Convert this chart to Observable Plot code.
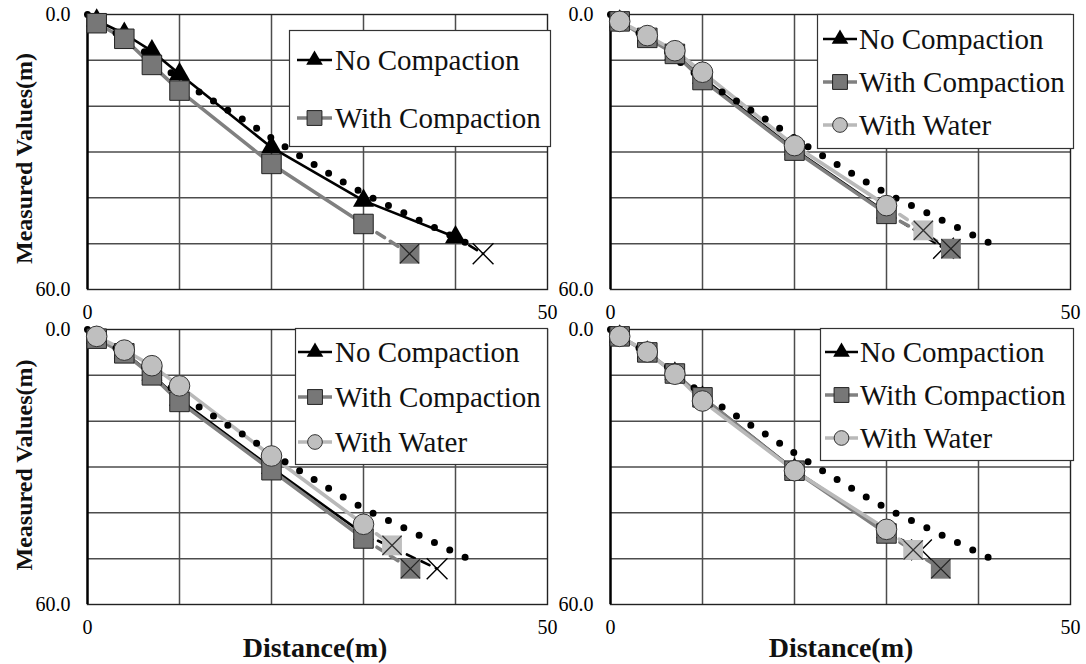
<!DOCTYPE html>
<html><head><meta charset="utf-8">
<script src="https://cdn.jsdelivr.net/npm/d3@7"></script>
<script src="https://cdn.jsdelivr.net/npm/@observablehq/plot@0.6"></script>
<style>
html,body{margin:0;padding:0;background:#fff;}
#chart{position:relative;width:1086px;height:664px;overflow:hidden;background:#fff;}
</style></head><body><div id="chart"></div>
<script>
// ---------- data ----------
const xTicks = [0, 50];
const yTicks = [0, 60];
const gridX = [10, 20, 30, 40];
const gridY = [10, 20, 30, 40, 50];
const seriesNames = ["No Compaction", "With Compaction", "With Water"];
const stations = [1, 4, 7, 10, 20, 30];
const stationsLong = [1, 4, 7, 10, 20, 30, 40];

// dotted reference curve (same in all panels)
const theoryX = [0, 2.5, 5.7, 8.5, 11.6, 14.8, 18.0, 21.0, 24.2, 27.3, 30.5, 33.9, 37.2, 40.5, 42.2];
const theoryY = [0, 3.3, 7.3, 11.9, 16.2, 20.3, 24.3, 28.3, 32.2, 36.0, 39.6, 42.8, 46.0, 49.2, 50.8];

// panel A (top left)
const aNoComp = [1.3, 4.2, 8.0, 13.0, 29.0, 40.6, 48.6];
const aNoCompEnd = [43.0, 52.2];
const aComp = [1.9, 5.3, 11.0, 16.6, 32.6, 45.7];
const aCompEnd = [35.0, 52.2];

// panel B (top right)
const bNoComp = [1.5, 5.0, 8.6, 13.8, 29.4, 43.2];
const bNoCompEnd = [36.2, 51.0];
const bComp = [1.5, 5.1, 8.6, 14.3, 29.7, 43.5];
const bCompEnd = [37.0, 51.1];
const bWater = [1.5, 4.6, 7.9, 12.6, 28.6, 41.7];
const bWaterEnd = [34.0, 47.1];

// panel C (bottom left)
const cNoComp = [1.8, 5.0, 9.8, 15.3, 30.2, 44.6];
const cNoCompEnd = [38.0, 52.2];
const cComp = [2.0, 5.2, 10.0, 15.8, 30.7, 45.6];
const cCompEnd = [35.1, 52.2];
const cWater = [1.5, 4.5, 7.9, 12.3, 27.6, 42.5];
const cWaterEnd = [33.1, 47.1];

// panel D (bottom right)
const dNoComp = [1.5, 5.0, 9.6, 14.8, 30.6, 44.2];
const dNoCompEnd = [33.8, 48.1];
const dComp = [1.5, 5.0, 9.6, 14.8, 30.8, 44.5];
const dCompEnd = [35.9, 52.2];
const dWater = [1.5, 4.9, 9.75, 15.6, 30.8, 43.6];
const dWaterEnd = [32.9, 48.1];

// ---------- styles ----------
const C_NO = "#000000", C_COMP = "#808080", C_WATER = "#b9b9b9";
const FILL_SQ = "#777777", FILL_CIR = "#bfbfbf";
const SERIF = "'Liberation Serif','Times New Roman',serif";

const pts = (xs, ys) => xs.map((x, i) => ({x, y: ys[i]}));
const theory = pts(theoryX, theoryY);

function seriesMarks(xs, ys, end, kind) {
  const data = pts(xs, ys);
  const last = data[data.length - 1];
  const endPt = {x: end[0], y: end[1]};
  const col = kind === "no" ? C_NO : kind === "comp" ? C_COMP : C_WATER;
  const lineW = kind === "no" ? 2.6 : 3.6;
  const line = [
    Plot.line(data, {x: "x", y: "y", stroke: col, strokeWidth: lineW}),
  ];
  const conn = [
    Plot.line([last, endPt], {x: "x", y: "y", stroke: col, strokeWidth: lineW, strokeDasharray: "9,7"})
  ];
  let markers;
  if (kind === "no") {
    markers = [
      Plot.dot(data, {x: "x", y: "y", symbol: "triangle", r: 7.8, fill: "#000", stroke: "none"}),
      Plot.dot([endPt], {x: "x", y: "y", symbol: "times", r: 9.5, stroke: "#000", strokeWidth: 1.4, fill: "none"})
    ];
  } else if (kind === "comp") {
    markers = [
      Plot.dot(data, {x: "x", y: "y", symbol: "square", r: 11, fill: FILL_SQ, stroke: "#222", strokeWidth: 1}),
      Plot.dot([endPt], {x: "x", y: "y", symbol: "square", r: 11.2, fill: FILL_SQ, stroke: "none"}),
      Plot.dot([endPt], {x: "x", y: "y", symbol: "times", r: 8.8, stroke: "#222", strokeWidth: 1.3, fill: "none"})
    ];
  } else {
    markers = [
      Plot.dot(data, {x: "x", y: "y", symbol: "circle", r: 10.3, fill: FILL_CIR, stroke: "#333", strokeWidth: 1}),
      Plot.dot([endPt], {x: "x", y: "y", symbol: "square", r: 11.2, fill: FILL_CIR, stroke: "none"}),
      Plot.dot([endPt], {x: "x", y: "y", symbol: "times", r: 8.8, stroke: "#333", strokeWidth: 1.3, fill: "none"})
    ];
  }
  return {line, conn, markers};
}

function panel(cfg) {
  const ser = cfg.series.map(s => seriesMarks(s.xs, s.ys, s.end, s.kind));
  const el = Plot.plot({
    width: cfg.width, height: cfg.height,
    marginLeft: 87, marginRight: cfg.mr, marginTop: 14, marginBottom: cfg.mb,
    style: {background: "transparent", overflow: "visible", fontFamily: SERIF, fontSize: "20px", color: "#000"},
    x: {domain: [0, 50], ticks: xTicks, tickSize: 0, tickPadding: 15, tickFormat: d => String(d), label: null},
    y: {domain: [0, 60], reverse: true, ticks: yTicks, tickSize: 0, tickPadding: 17, tickFormat: d => d.toFixed(1), label: null},
    marks: [
      Plot.ruleX(gridX, {stroke: "#4d4d4d", strokeWidth: 1.5}),
      Plot.ruleY(gridY, {stroke: "#4d4d4d", strokeWidth: 1.5}),
      Plot.frame({stroke: "#222", strokeWidth: 1.4}),
      Plot.ruleX([0], {stroke: "#000", strokeWidth: 2.4}),
      ...ser.flatMap(s => s.line),
      Plot.line(theory, {x: "x", y: "y", stroke: "#000", strokeWidth: 7, strokeLinecap: "round", strokeDasharray: "0,17"}),
      ...ser.flatMap(s => s.conn),
      ...ser.flatMap(s => s.markers)
    ]
  });
  el.style.position = "absolute";
  el.style.left = cfg.left + "px";
  el.style.top = cfg.top + "px";
  el.style.background = "transparent";
  el.style.overflow = "visible";
  return el;
}

const chart = document.getElementById("chart");
const panels = [
  {left: 0, top: 0, width: 575, height: 320, mr: 28, mb: 31,
   series: [
     {xs: stationsLong, ys: aNoComp, end: aNoCompEnd, kind: "no"},
     {xs: stations, ys: aComp, end: aCompEnd, kind: "comp"}
   ]},
  {left: 523, top: 0, width: 563, height: 320, mr: 16, mb: 31,
   series: [
     {xs: stations, ys: bNoComp, end: bNoCompEnd, kind: "no"},
     {xs: stations, ys: bComp, end: bCompEnd, kind: "comp"},
     {xs: stations, ys: bWater, end: bWaterEnd, kind: "water"}
   ]},
  {left: 0, top: 315, width: 575, height: 349, mr: 28, mb: 60,
   series: [
     {xs: stations, ys: cNoComp, end: cNoCompEnd, kind: "no"},
     {xs: stations, ys: cComp, end: cCompEnd, kind: "comp"},
     {xs: stations, ys: cWater, end: cWaterEnd, kind: "water"}
   ]},
  {left: 523, top: 315, width: 563, height: 349, mr: 16, mb: 60,
   series: [
     {xs: stations, ys: dNoComp, end: dNoCompEnd, kind: "no"},
     {xs: stations, ys: dComp, end: dCompEnd, kind: "comp"},
     {xs: stations, ys: dWater, end: dWaterEnd, kind: "water"}
   ]}
];
panels.forEach(p => chart.appendChild(panel(p)));

// ---------- overlay: legends & axis titles ----------
const ov = d3.select(chart).append("svg")
  .attr("width", 1086).attr("height", 664)
  .style("position", "absolute").style("left", "0px").style("top", "0px")
  .style("pointer-events", "none").style("overflow", "visible");

const legends = [
  {box: [289, 30, 261, 116], rows: [60, 118], n: 2, sx: [297, 332], tx: 335},
  {box: [817, 14, 256, 134], rows: [39, 82, 125], n: 3, sx: [823, 857], tx: 859},
  {box: [295, 328, 252, 136], rows: [352, 397, 442], n: 3, sx: [298, 332], tx: 335},
  {box: [820, 328, 253, 132], rows: [352, 395, 438], n: 3, sx: [825, 858], tx: 860}
];
const legendStyle = [
  {col: C_NO, w: 2.6, sym: d3.symbolTriangle, size: 120, fill: "#000", stroke: "none"},
  {col: C_COMP, w: 3.6, sym: d3.symbolSquare, size: 220, fill: FILL_SQ, stroke: "#222"},
  {col: C_WATER, w: 3.6, sym: d3.symbolCircle, size: 170, fill: FILL_CIR, stroke: "#333"}
];
legends.forEach(L => {
  const g = ov.append("g");
  g.append("rect").attr("x", L.box[0] + 0.5).attr("y", L.box[1] + 0.5)
    .attr("width", L.box[2]).attr("height", L.box[3])
    .attr("fill", "#fff").attr("stroke", "#333").attr("stroke-width", 1.2);
  for (let i = 0; i < L.n; i++) {
    const st = legendStyle[i], y = L.rows[i];
    g.append("line").attr("x1", L.sx[0]).attr("x2", L.sx[1]).attr("y1", y).attr("y2", y)
      .attr("stroke", st.col).attr("stroke-width", st.w);
    g.append("path").attr("d", d3.symbol(st.sym, st.size)())
      .attr("transform", `translate(${(L.sx[0] + L.sx[1]) / 2},${y})`)
      .attr("fill", st.fill).attr("stroke", st.stroke).attr("stroke-width", 1);
    g.append("text").attr("x", L.tx).attr("y", y).attr("dy", "0.35em")
      .attr("font-family", SERIF).attr("font-size", 29).attr("fill", "#111")
      .text(seriesNames[i]);
  }
});

[158.5, 465].forEach(cy => {
  ov.append("text").attr("transform", `translate(32,${cy}) rotate(-90)`)
    .attr("text-anchor", "middle").attr("font-family", SERIF).attr("font-weight", "bold")
    .attr("font-size", 24).attr("fill", "#111").text("Measured  Values(m)");
});
[315, 841].forEach(cx => {
  ov.append("text").attr("x", cx).attr("y", 657).attr("text-anchor", "middle")
    .attr("font-family", SERIF).attr("font-weight", "bold").attr("font-size", 28)
    .attr("fill", "#111").text("Distance(m)");
});
</script></body></html>
